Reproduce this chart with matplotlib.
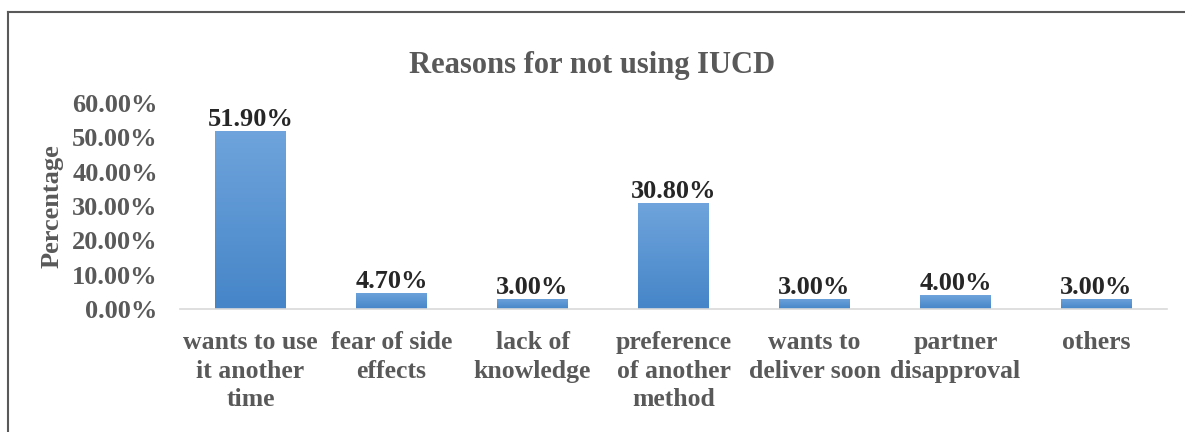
import matplotlib
matplotlib.use("Agg")
import matplotlib.pyplot as plt
import numpy as np
from matplotlib.lines import Line2D
from matplotlib.colors import LinearSegmentedColormap

categories = ["wants to use\nit another\ntime", "fear of side\neffects", "lack of\nknowledge",
              "preference\nof another\nmethod", "wants to\ndeliver soon", "partner\ndisapproval", "others"]
values = [51.9, 4.7, 3.0, 30.8, 3.0, 4.0, 3.0]
value_labels = ["51.90%", "4.70%", "3.00%", "30.80%", "3.00%", "4.00%", "3.00%"]
yticks = [0, 10, 20, 30, 40, 50, 60]
ytick_labels = ["0.00%", "10.00%", "20.00%", "30.00%", "40.00%", "50.00%", "60.00%"]

plt.rcParams['font.family'] = ['Liberation Serif', 'DejaVu Serif']
plt.rcParams['font.weight'] = 'bold'

fig = plt.figure(figsize=(11.85, 4.32), dpi=100)
ax = fig.add_axes([180/1185, 1-309/432, 987/1185, (309-103)/432])

x = np.arange(len(categories))
bars = ax.bar(x, values, width=0.5, color="#5b9bd5", zorder=2)

cmap = LinearSegmentedColormap.from_list("g", ["#4585c8", "#6fa4dc"])
grad = np.linspace(0, 1, 256).reshape(-1, 1)
for b in bars:
    x0, y0 = b.get_x(), b.get_y()
    w, h = b.get_width(), b.get_height()
    im = ax.imshow(grad, cmap=cmap, origin='lower', aspect='auto',
                   extent=[x0, x0 + w, y0, y0 + h], zorder=3)
    im.set_clip_path(b)

ax.set_xlim(-0.5, len(categories) - 0.5)
ax.set_ylim(0, 60)
ax.set_yticks(yticks)
ax.set_yticklabels(ytick_labels)
ax.set_xticks(x)
ax.set_xticklabels(categories, linespacing=1.3)
ax.tick_params(axis='y', length=0, labelsize=19, labelcolor="#595959", pad=16)
ax.tick_params(axis='x', length=0, labelsize=18.5, labelcolor="#595959", pad=16)
for lab in ax.get_xticklabels() + ax.get_yticklabels():
    lab.set_fontweight('bold')

for s in ['top', 'right', 'left']:
    ax.spines[s].set_visible(False)
ax.spines['bottom'].set_color("#d9d9d9")
ax.spines['bottom'].set_linewidth(1.2)
ax.spines['bottom'].set_zorder(4)

for xi, v, lab in zip(x, values, value_labels):
    ax.annotate(lab, (xi, v), xytext=(0, 0), textcoords='offset points',
                ha='center', va='bottom', fontsize=19, fontweight='bold', color="#262626")

ax.set_ylabel("Percentage", fontsize=19, fontweight='bold', color="#595959")
ax.yaxis.set_label_coords(-(180-64)/987, 0.5)

fig.text(0.5, 1 - 66/432, "Reasons for not using IUCD", ha='center', va='center',
         fontsize=22, fontweight='bold', color="#595959")

# figure border
fig.add_artist(Line2D([8/1185, 1.0], [1-11.5/432, 1-11.5/432], transform=fig.transFigure,
                      color="#595959", lw=1.5))
fig.add_artist(Line2D([8/1185, 8/1185], [1-11.5/432, 0], transform=fig.transFigure,
                      color="#595959", lw=1.5))

fig.savefig("out.png", dpi=100)
